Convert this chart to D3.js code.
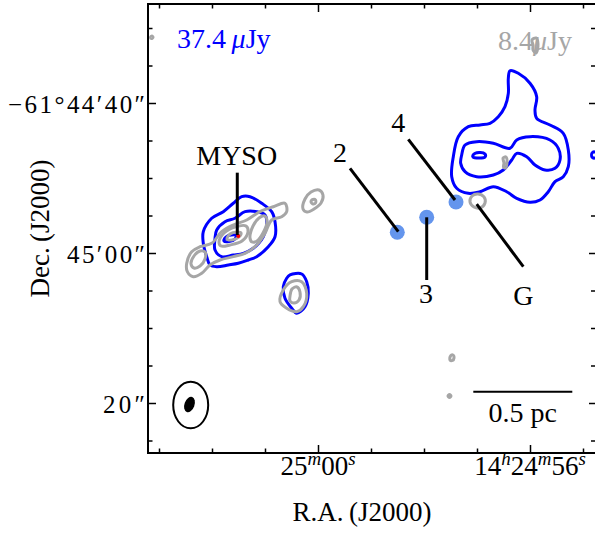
<!DOCTYPE html>
<html><head><meta charset="utf-8">
<script src="https://cdn.jsdelivr.net/npm/d3@7"></script>
<style>
body{margin:0;background:#fff}
svg{display:block}
text{font-family:"Liberation Serif","Times New Roman",serif}
</style>
</head><body>
<svg id="c" width="595" height="537"></svg>
<script>
// ---------------- DATA ----------------
// RA in seconds of 14h24m (60 = 14h25m00s), Dec in arcsec south of -61°44'00"
const raMajorTicks = [60, 56];
const raMajorLabels = ["25^m00^s", "14^h24^m56^s"];
const raMinorTicks = [55, 57, 58, 59, 61, 62, 63];
const decMajorTicks = [40, 60, 80];
const decMajorLabels = ["\u221261\u00b044\u203240\u2033", "45\u203200\u2033", "20\u2033"];
const decMinorTicks = [30, 35, 45, 50, 55, 65, 70, 75, 85];

const blueLevelLabel = "37.4";
const grayLevelLabel = "8.4";

// Blue contours (37.4 uJy levels)
const blueContours = [
  [[56.377,35.69],[56.221,36.04],[56.0,37.37],[55.874,39.16],[55.906,40.93],[55.874,42.04],[55.623,42.93],[55.372,44.04],[55.277,46.27],[55.277,48.49],[55.372,49.83],[55.528,50.49],[55.655,51.83],[55.811,52.93],[56.0,53.24],[56.251,52.71],[56.44,51.83],[56.692,51.16],[56.943,51.83],[57.164,52.04],[57.383,51.37],[57.477,49.83],[57.447,47.16],[57.353,44.49],[57.164,43.16],[56.943,42.93],[56.755,42.71],[56.598,41.83],[56.472,40.49],[56.409,38.71],[56.409,36.71]],
  [[57.289,46.93],[57.226,45.6],[57.006,45.16],[56.692,45.37],[56.377,46.04],[56.251,44.93],[56.0,44.49],[55.623,44.93],[55.466,46.04],[55.434,47.6],[55.528,48.71],[55.717,48.93],[55.906,48.27],[56.062,47.16],[56.251,46.71],[56.345,47.6],[56.504,48.93],[56.692,49.6],[57.006,49.83],[57.226,49.16],[57.308,48.04]],
  [[57.075,46.93],[56.962,46.6],[56.849,46.8],[56.849,47.2],[56.962,47.33],[57.075,47.2]],
  [[54.830,46.67],[54.774,46.53],[54.736,46.93],[54.774,47.33],[54.830,47.2]],
  [[62.164,57.16],[62.006,55.37],[61.787,54.49],[61.598,53.37],[61.44,52.49],[61.283,52.49],[61.062,53.37],[60.874,54.49],[60.811,55.83],[60.811,57.83],[60.938,59.16],[61.157,60.49],[61.315,60.93],[61.504,61.37],[61.692,61.6],[61.911,61.83],[62.038,61.6],[62.1,60.49],[62.164,58.71]],
  [[61.911,56.93],[61.755,55.83],[61.566,55.37],[61.377,54.49],[61.157,54.49],[61.0,54.93],[60.968,56.27],[61.032,57.83],[61.221,59.37],[61.409,60.04],[61.598,60.27],[61.817,60.49],[61.943,59.6],[61.943,58.04]],
  [[61.774,58.4],[61.736,57.87],[61.642,57.6],[61.547,57.67],[61.566,58.13],[61.679,58.47]],
  [[60.528,62.93],[60.308,62.8],[60.213,63.83],[60.183,65.37],[60.245,67.16],[60.402,68.04],[60.496,67.37],[60.623,66.04],[60.655,64.49],[60.591,63.37]]
];

// Gray contours (8.4 uJy levels)
const grayContours = [
  [[62.477,61.37],[62.383,59.83],[62.226,59.16],[62.006,58.71],[61.817,57.16],[61.598,56.27],[61.345,55.6],[61.094,54.49],[60.843,53.83],[60.623,53.37],[60.591,54.49],[60.685,55.16],[60.874,55.6],[61.0,57.37],[61.157,58.93],[61.377,60.04],[61.598,60.49],[61.849,60.93],[62.038,61.6],[62.194,62.71],[62.353,63.16],[62.466,62.49]],
  [[61.868,58.53],[61.774,57.33],[61.566,56.53],[61.358,56.4],[61.321,57.2],[61.434,58.4],[61.66,58.93],[61.83,59.07]],
  [[61.717,58.13],[61.66,57.47],[61.528,57.2],[61.453,57.33],[61.491,57.87],[61.623,58.27]],
  [[61.283,58.0],[61.226,56.4],[61.113,55.33],[61.0,55.07],[60.962,55.87],[61.038,57.33],[61.151,58.4],[61.245,58.53]],
  [[62.396,61.47],[62.34,60.4],[62.226,59.73],[62.132,59.87],[62.132,60.8],[62.226,61.73],[62.34,62.0]],
  [[60.283,54.13],[60.245,52.8],[60.132,51.87],[59.981,51.6],[59.906,52.27],[59.943,53.33],[60.075,54.13],[60.208,54.53]],
  [[60.132,53.16],[60.094,52.87],[60.047,52.93],[60.047,53.33],[60.094,53.47]],
  [[60.496,63.83],[60.308,63.83],[60.213,65.37],[60.277,67.16],[60.402,67.83],[60.591,67.37],[60.717,66.49],[60.655,64.93]],
  [[60.528,65.73],[60.491,64.8],[60.396,64.53],[60.34,65.2],[60.358,66.27],[60.453,66.67],[60.528,66.4]],
  [[57.132,53.2],[57.094,52.4],[56.981,52.13],[56.868,52.53],[56.849,53.33],[56.943,54.0],[57.057,53.87]],
  [[56.509,47.33],[56.453,47.2],[56.434,48.0],[56.462,48.67],[56.5,48.53],[56.491,48.0]],
  [[57.509,74.27],[57.5,73.73],[57.453,73.6],[57.434,74.0],[57.462,74.33]],
  [[57.547,79.07],[57.519,78.87],[57.491,79.07],[57.519,79.27]],
  [[63.16,31.24],[63.132,31.07],[63.113,31.27],[63.142,31.4]],
  [[55.962,31.6],[55.887,31.33],[55.849,32.13],[55.887,33.33],[55.943,32.93],[55.943,32.27]]
];

// Compact sources
const sourceNames = ["2", "3", "4"];
const sourceRA = [58.504, 57.949, 57.396];
const sourceDec = [57.24, 55.24, 53.2];

// MYSO peak
const mysoPeak = [61.504, 57.73];

// Annotation labels: text, line start, line end, text anchor (RA, Dec)
const annoText = ["MYSO", "2", "3", "4", "G"];
const annoFrom = [[61.523,49.29],[59.396,48.71],[57.949,55.24],[58.296,44.84],[57.006,53.47]];
const annoTo   = [[61.523,57.6],[58.485,57.16],[57.949,63.6],[57.415,52.93],[56.126,61.83]];
const annoPos  = [[61.534,48.27],[59.585,47.83],[57.962,66.67],[58.485,43.83],[56.126,66.93]];

// Beam (arcsec: major, minor, PA deg) and scale bar
const beam = [2.13, 1.33, 20];
const scaleBarArcsec = 13.2;
const scaleBarLabel = "0.5 pc";

// ---------------- DRAWING ----------------
const svg = d3.select("#c");
const L = 148, R = 597, T = 4, B = 453;
const x = d3.scaleLinear().domain([60, 56]).range([318, 530]);
const y = d3.scaleLinear().domain([40, 80]).range([103, 403]);
const pxPerArcsec = Math.abs(y(1) - y(0));
const FS = 28, FT = 27;

svg.append("defs").append("clipPath").attr("id", "clip")
  .append("rect").attr("x", L).attr("y", T).attr("width", R - L).attr("height", B - T);

const plot = svg.append("g").attr("clip-path", "url(#clip)");
const line = d3.line().x(d => x(d[0])).y(d => y(d[1])).curve(d3.curveCatmullRomClosed.alpha(0.5));

plot.selectAll("path.blue").data(blueContours).enter().append("path")
  .attr("class", "blue").attr("d", line)
  .attr("fill", "none").attr("stroke", "#0000ff").attr("stroke-width", 3).attr("stroke-linejoin", "round");
plot.selectAll("path.gray").data(grayContours).enter().append("path")
  .attr("class", "gray").attr("d", line)
  .attr("fill", "none").attr("stroke", "#a6a6a6").attr("stroke-width", 3).attr("stroke-linejoin", "round");

plot.append("circle").attr("cx", x(mysoPeak[0])).attr("cy", y(mysoPeak[1])).attr("r", 2).attr("fill", "#ff0000");

plot.selectAll("circle.src").data(sourceNames).enter().append("circle")
  .attr("class", "src")
  .attr("cx", (d, i) => x(sourceRA[i])).attr("cy", (d, i) => y(sourceDec[i]))
  .attr("r", 7.5).attr("fill", "#6495ed");

// annotation lines & labels
annoText.forEach((t, i) => {
  plot.append("line")
    .attr("x1", x(annoFrom[i][0])).attr("y1", y(annoFrom[i][1]))
    .attr("x2", x(annoTo[i][0])).attr("y2", y(annoTo[i][1]))
    .attr("stroke", "#000").attr("stroke-width", 3);
  plot.append("text").attr("x", x(annoPos[i][0])).attr("y", y(annoPos[i][1]))
    .attr("text-anchor", "middle").attr("font-size", FS).attr("fill", "#000").text(t);
});

// level labels
const t1 = svg.append("text").attr("x", 177).attr("y", 48).attr("font-size", FS).attr("fill", "#0000ff");
t1.append("tspan").text(blueLevelLabel + "\u2009");
t1.append("tspan").attr("font-style", "italic").text("\u03bc");
t1.append("tspan").text("Jy");
const t2 = svg.append("text").attr("x", 572).attr("y", 50).attr("font-size", FS).attr("fill", "#a6a6a6").attr("text-anchor", "end");
t2.append("tspan").text(grayLevelLabel);
t2.append("tspan").attr("font-style", "italic").text("\u03bc");
t2.append("tspan").text("Jy");

// beam
const bx = L + 42.7, by = B - 48;
svg.append("ellipse").attr("cx", bx).attr("cy", by).attr("rx", 17.5).attr("ry", 23.3)
  .attr("fill", "none").attr("stroke", "#000").attr("stroke-width", 2);
svg.append("ellipse").attr("cx", 0).attr("cy", 0)
  .attr("rx", beam[1] / 2 * pxPerArcsec).attr("ry", beam[0] / 2 * pxPerArcsec)
  .attr("transform", `translate(${bx - 1.2},${by - 0.5}) rotate(${beam[2]})`).attr("fill", "#000");

// scale bar
const sbRight = R - 24.7, sbY = B - 61.3, sbLen = scaleBarArcsec * pxPerArcsec;
svg.append("line").attr("x1", sbRight - sbLen).attr("x2", sbRight).attr("y1", sbY).attr("y2", sbY)
  .attr("stroke", "#000").attr("stroke-width", 2);
svg.append("text").attr("x", sbRight - sbLen / 2).attr("y", sbY + 30).attr("text-anchor", "middle")
  .attr("font-size", FS).text(scaleBarLabel);

// ticks via d3 axes (inward)
function ticks(axisGen, values, size, transform) {
  const g = svg.append("g").attr("transform", transform)
    .call(axisGen.tickValues(values).tickSize(-size).tickFormat(""));
  g.select(".domain").remove();
  g.selectAll("line").attr("stroke", "#000").attr("stroke-width", 1.5);
}
ticks(d3.axisBottom(x), raMajorTicks, 8, `translate(0,${B})`);
ticks(d3.axisBottom(x), raMinorTicks, 4.5, `translate(0,${B})`);
ticks(d3.axisTop(x), raMajorTicks, 8, `translate(0,${T})`);
ticks(d3.axisTop(x), raMinorTicks, 4.5, `translate(0,${T})`);
ticks(d3.axisLeft(y), decMajorTicks, 8, `translate(${L},0)`);
ticks(d3.axisLeft(y), decMinorTicks, 4.5, `translate(${L},0)`);
ticks(d3.axisRight(y), decMajorTicks, 8, `translate(${R},0)`);
ticks(d3.axisRight(y), decMinorTicks, 6, `translate(${R},0)`);

// frame
svg.append("rect").attr("x", L).attr("y", T).attr("width", R - L).attr("height", B - T)
  .attr("fill", "none").attr("stroke", "#000").attr("stroke-width", 2);

// RA tick labels with superscripts
raMajorTicks.forEach((v, i) => {
  const txt = svg.append("text").attr("x", x(v)).attr("y", B + 22).attr("text-anchor", "middle").attr("font-size", FT);
  const parts = raMajorLabels[i].split("^");
  parts.forEach((p, j) => {
    if (j === 0) { txt.append("tspan").text(p); return; }
    txt.append("tspan").attr("font-size", FT * 0.7).attr("font-style", "italic").attr("dy", -10).text(p[0]);
    if (p.length > 1) txt.append("tspan").attr("dy", 10).text(p.slice(1));
  });
});

// Dec tick labels (mathtext-like wide spacing)
const decWidths = [137, 78, 42];
decMajorTicks.forEach((v, i) => {
  svg.append("text").attr("x", L - 3).attr("y", y(v) + 10).attr("text-anchor", "end")
    .attr("font-size", 25).attr("textLength", decWidths[i]).attr("lengthAdjust", "spacing")
    .text(decMajorLabels[i]);
});

// axis titles
svg.append("text").attr("x", 362).attr("y", 521).attr("text-anchor", "middle").attr("font-size", FT).text("R.A.\u2009(J2000)");
svg.append("text").attr("transform", `translate(49,${(T + B) / 2}) rotate(-90)`).attr("text-anchor", "middle")
  .attr("font-size", FT).text("Dec.\u2009(J2000)");
</script>
</body></html>
